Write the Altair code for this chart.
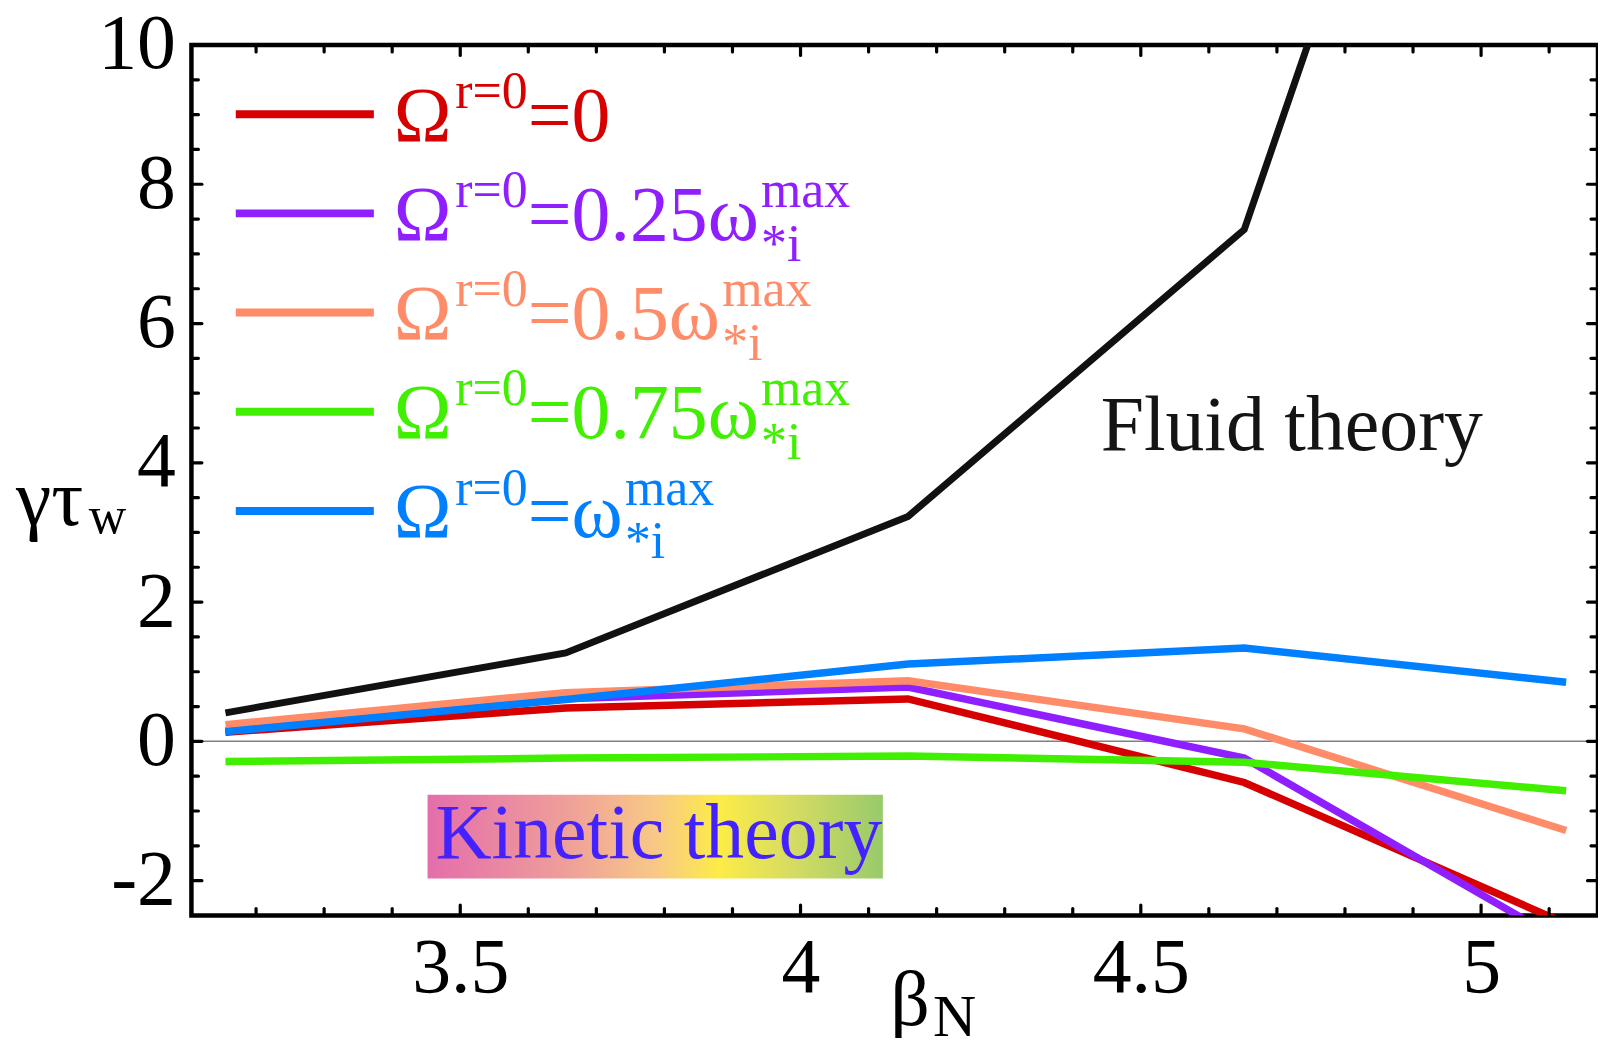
import altair as alt
import pandas as pd

# ---------------- data ----------------
beta_N = [3.155, 3.655, 4.158, 4.652, 5.125]
fluid_theory = [0.41, 1.27, 3.23, 7.35, 20.8]
omega_0 = [0.13, 0.48, 0.61, -0.59, -2.62]
omega_025 = [0.15, 0.61, 0.78, -0.24, -2.90]
omega_05 = [0.24, 0.70, 0.87, 0.18, -1.28]
omega_075 = [-0.29, -0.24, -0.21, -0.30, -0.71]
omega_1 = [0.14, 0.60, 1.11, 1.34, 0.85]

series_names = ["fluid", "0", "0.25", "0.5", "0.75", "1"]
series_values = [fluid_theory, omega_0, omega_025, omega_05, omega_075, omega_1]
series_colors = ["#111111", "#D60000", "#8F1FFF", "#FF8C69", "#40F000", "#0080FF"]
series_widths = [7, 7.5, 7.5, 7.5, 7.5, 7.5]

# legend: coefficient text of omega_*i^max ('' means plain omega), and whether omega is shown
legend_coeffs = ["0", "0.25", "0.5", "0.75", ""]
legend_has_omega = [False, True, True, True, True]
legend_colors = series_colors[1:]

x_labels = [3.5, 4, 4.5, 5]
y_labels = [-2, 0, 2, 4, 6, 8, 10]
x_ticks_major = [3.5, 4.0, 4.5, 5.0]
x_ticks_minor = [3.2, 3.3, 3.4, 3.6, 3.7, 3.8, 3.9, 4.1, 4.2, 4.3, 4.4,
                 4.6, 4.7, 4.8, 4.9, 5.1]
y_ticks_major = [-2, 0, 2, 4, 6, 8]
y_ticks_minor = [-1.5, -1, -0.5, 0.5, 1, 1.5, 2.5, 3, 3.5, 4.5, 5, 5.5,
                 6.5, 7, 7.5, 8.5, 9, 9.5]

# ---------------- layout / style ----------------
W, H = 1411, 873.2
FONT = "Liberation Serif, Times New Roman, DejaVu Serif, serif"
F, f = 78, 52
GLYPH_W = {"Ω": 0.766, "ω": 0.686, "r": 0.333, "=": 0.564, "0": 0.5, "1": 0.5,
           "2": 0.5, "5": 0.5, "7": 0.5, ".": 0.25, "m": 0.778, "a": 0.444,
           "x": 0.5, "*": 0.5, "i": 0.278}


def adv(s, size):
    return sum(GLYPH_W.get(ch, 0.5) for ch in s) * size


xs = alt.Scale(domain=[3.105, 5.1718], nice=False, zero=False)
ys = alt.Scale(domain=[-2.5, 10], nice=False, zero=False)

x_axis = alt.Axis(values=x_labels, title=None, format="~g", labelFont=FONT,
                  labelFontSize=F, labelColor="black", labelPadding=14,
                  ticks=False, tickSize=0, domain=False, grid=False,
                  labelFlush=False, labelOverlap=False)
y_axis = alt.Axis(values=y_labels, title=None, labelFont=FONT,
                  labelFontSize=F, labelColor="black", labelPadding=16,
                  labelExpr="replace(format(datum.value, '~g'), '\u2212', '-')",
                  ticks=False, tickSize=0, domain=False, grid=False,
                  labelFlush=False, labelOverlap=False)

dummy = pd.DataFrame({"a": [0]})
layers = []

# zero line
layers.append(
    alt.Chart(pd.DataFrame({"v": [0]})).mark_rule(color="#808080", strokeWidth=1.5)
    .encode(y=alt.Y("v:Q", scale=ys, axis=y_axis))
)

# Kinetic theory box with gradient
grad = alt.LinearGradient(
    gradient="linear", x1=0, x2=1, y1=0, y2=0,
    stops=[alt.GradientStop(offset=0, color="#E46EAB"),
           alt.GradientStop(offset=0.3, color="#EE9E9A"),
           alt.GradientStop(offset=0.5, color="#F8C886"),
           alt.GradientStop(offset=0.64, color="#FCEC47"),
           alt.GradientStop(offset=0.8, color="#D6DC62"),
           alt.GradientStop(offset=1, color="#98CA6B")])
layers.append(
    alt.Chart(dummy).mark_rect(color=grad).encode(
        x=alt.datum(3.452, scale=xs), x2=alt.datum(4.121),
        y=alt.datum(-0.765, scale=ys), y2=alt.datum(-1.968))
)

# data lines
rows = []
for name, vals in zip(series_names, series_values):
    for b, g in zip(beta_N, vals):
        rows.append({"series": name, "beta": b, "gamma": g})
df = pd.DataFrame(rows)

for name, col, sw in zip(series_names, series_colors, series_widths):
    layers.append(
        alt.Chart(df).transform_filter(alt.datum.series == name)
        .mark_line(color=col, strokeWidth=sw, clip=True)
        .encode(x=alt.X("beta:Q", scale=xs, axis=x_axis),
                y=alt.Y("gamma:Q", scale=ys, axis=y_axis))
    )

# inward ticks on all four sides
def xticks(vals, length):
    d = pd.DataFrame({"v": vals})
    base = alt.Chart(d).mark_rule(color="black", strokeWidth=3.2, strokeCap="round")
    return [base.encode(x=alt.X("v:Q", scale=xs, axis=x_axis), y=alt.value(H), y2=alt.value(H - length)),
            base.encode(x=alt.X("v:Q", scale=xs, axis=x_axis), y=alt.value(0), y2=alt.value(length))]


def yticks(vals, length):
    d = pd.DataFrame({"v": vals})
    base = alt.Chart(d).mark_rule(color="black", strokeWidth=3.2, strokeCap="round")
    return [base.encode(y=alt.Y("v:Q", scale=ys, axis=y_axis), x=alt.value(0), x2=alt.value(length)),
            base.encode(y=alt.Y("v:Q", scale=ys, axis=y_axis), x=alt.value(W), x2=alt.value(W - length))]


layers += xticks(x_ticks_major, 10.5) + xticks(x_ticks_minor, 7)
layers += yticks(y_ticks_major, 10.5) + yticks(y_ticks_minor, 7)

# annotations
layers.append(
    alt.Chart(dummy).mark_text(text="Kinetic theory", font=FONT, fontSize=78,
                               align="left", baseline="alphabetic", color="#4422FF")
    .encode(x=alt.datum(3.4635, scale=xs), y=alt.datum(-1.682, scale=ys))
)
layers.append(
    alt.Chart(dummy).mark_text(text="Fluid theory", font=FONT, fontSize=78,
                               align="left", baseline="alphabetic", color="#141414")
    .encode(x=alt.datum(4.441, scale=xs), y=alt.datum(4.19, scale=ys))
)


def txt(s, x, y, size, color="black"):
    return alt.Chart(dummy).mark_text(text=s, font=FONT, fontSize=size, align="left",
                                      baseline="alphabetic", color=color).encode(
        x=alt.value(x), y=alt.value(y))


# custom legend
leg_x_line0, leg_x_line1 = 44.5, 183
leg_x_text = 203
leg_base0, leg_step = 96, 99.5
for k, (coef, has_om, col) in enumerate(zip(legend_coeffs, legend_has_omega, legend_colors)):
    yb = leg_base0 + k * leg_step
    layers.append(
        alt.Chart(dummy).mark_rule(color=col, strokeWidth=8).encode(
            x=alt.value(leg_x_line0), x2=alt.value(leg_x_line1), y=alt.value(yb - 26.6))
    )
    x = leg_x_text
    layers.append(txt("Ω", x, yb, F, col))
    x += adv("Ω", F) + 2
    layers.append(txt("r=0", x, yb - 33, f, col))
    x += adv("r=0", f)
    main2 = "=" + coef + ("ω" if has_om else "")
    layers.append(txt(main2, x, yb, F, col))
    x += adv(main2, F)
    if has_om:
        layers.append(txt("max", x, yb - 33, f, col))
        layers.append(txt("*i", x, yb + 21, f, col))

# axis titles
layers.append(txt("γτ", -176, 481.5, 80))
layers.append(txt("w", -103, 489.5, 52))
layers.append(txt("β", 701, 983.5, 78))
layers.append(txt("N", 744, 994.5, 60))

chart = alt.layer(*layers).properties(
    width=W, height=H,
    autosize=alt.AutoSizeParams(type="none"),
    padding={"left": 184, "top": 35.5, "right": 0, "bottom": 121.5},
    background="white",
).configure_view(stroke="black", strokeWidth=4.5)

chart.save("out.html", embed_options={"renderer": "svg", "actions": False})
